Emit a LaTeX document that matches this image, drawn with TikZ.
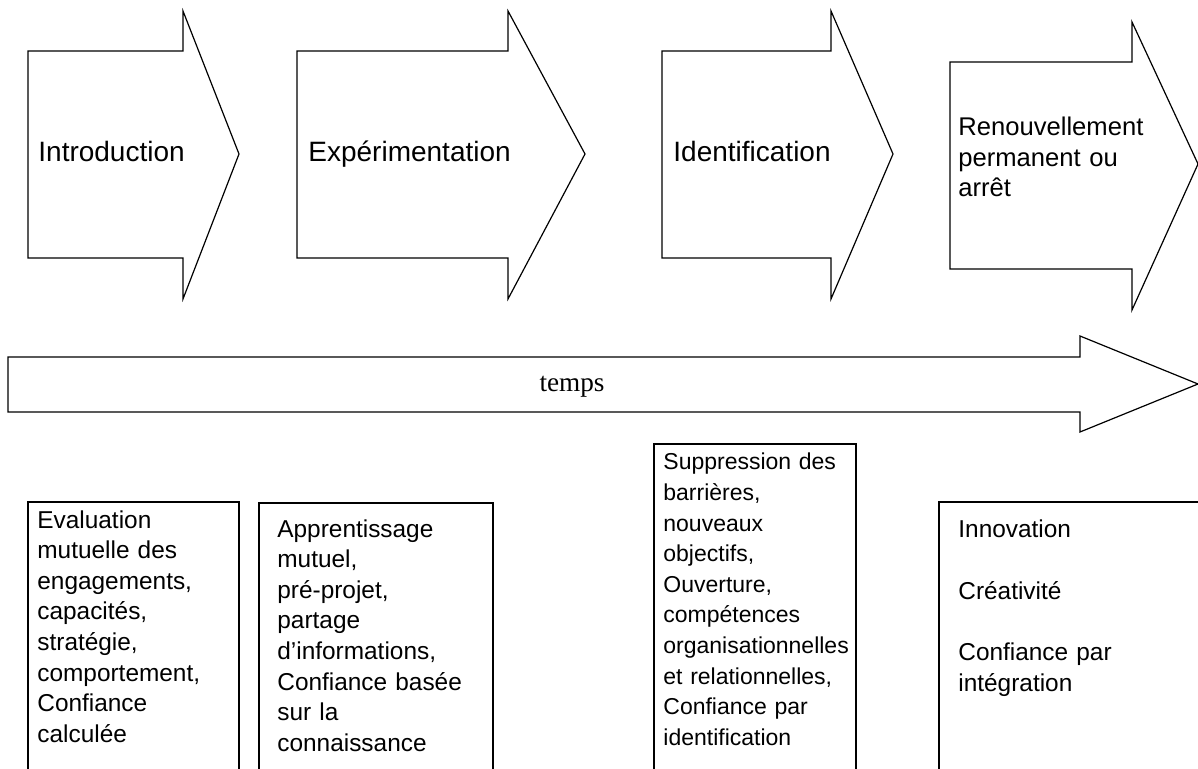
\documentclass[tikz,border=0pt]{standalone}
\usepackage{fontspec}
\setmainfont{Liberation Sans}
\newfontfamily\timesfont{Liberation Serif}
\tikzstyle{phase}=[draw,line width=0.6pt,fill=white]
\tikzstyle{phasetext}=[inner sep=0pt,anchor=base west,font=\fontsize{14}{15.25}\selectfont]
\tikzstyle{factbox}=[draw,line width=0.6pt]
\tikzstyle{facttext}=[inner sep=0pt,anchor=base west,text width=100pt,align=left,font=\fontsize{12.2}{15.3}\selectfont]

\begin{document}
\begin{tikzpicture}[x=0.5pt,y=-0.5pt]
      \useasboundingbox (0,0) rectangle (1198,769);
      \clip (0,0) rectangle (1198,769);

      % phases
      \draw[phase] (28,51) -- (183,51) -- (183,11) -- (239,154) -- (183,299) -- (183,258) -- (28,258) -- cycle;
      \draw[phase] (297,51) -- (508,51) -- (508,11) -- (585,154) -- (508,299) -- (508,258) -- (297,258) -- cycle;
      \draw[phase] (662,51) -- (831,51) -- (831,11) -- (893,154) -- (831,299) -- (831,258) -- (662,258) -- cycle;
      \draw[phase] (950,62) -- (1132,62) -- (1132,22) -- (1198,164) -- (1132,310) -- (1132,269) -- (950,269) -- cycle;

      \node (intro) at (38,162) [phasetext] {Introduction};
      \node (exper) at (308,162) [phasetext] {Expérimentation};
      \node (ident) at (673,162) [phasetext] {Identification};
      \node (renouv) at (958,136) [phasetext, text width=110pt, align=left, font=\fontsize{12.8}{15.25}\selectfont] {Renouvellement\\permanent ou\\arrêt};

      % time axis
      \draw[phase] (8,357) -- (1080,357) -- (1080,336) -- (1198,384) -- (1080,432) -- (1080,412) -- (8,412) -- cycle;
      \node (temps) at (572,392) [inner sep=0pt,anchor=base,font=\timesfont\fontsize{13.6}{15}\selectfont] {temps};

      % boxes
      \draw[factbox] (28,502) rectangle (239,800);
      \draw[factbox] (259,503) rectangle (493,800);
      \draw[factbox] (654,444) rectangle (856,800);
      \draw[factbox] (939,502) rectangle (1220,800);

      \node (eval) at (37,528) [facttext] {Evaluation\\mutuelle des\\engagements,\\capacités,\\stratégie,\\comportement,\\Confiance\\calculée};
      \node (apprent) at (277,537) [facttext] {Apprentissage\\mutuel,\\pré-projet,\\partage\\d’informations,\\Confiance basée\\sur la\\connaissance};
      \node (suppr) at (663,470) [facttext, font=\fontsize{11.5}{15.3}\selectfont] {Suppression des\\barrières,\\nouveaux\\objectifs,\\Ouverture,\\compétences\\organisationnelles\\et relationnelles,\\Confiance par\\identification};
      \node (innov) at (958,538) [facttext] {Innovation\\[15.3pt]Créativité\\[15.3pt]Confiance par\\intégration};
    \end{tikzpicture}
\end{document}
